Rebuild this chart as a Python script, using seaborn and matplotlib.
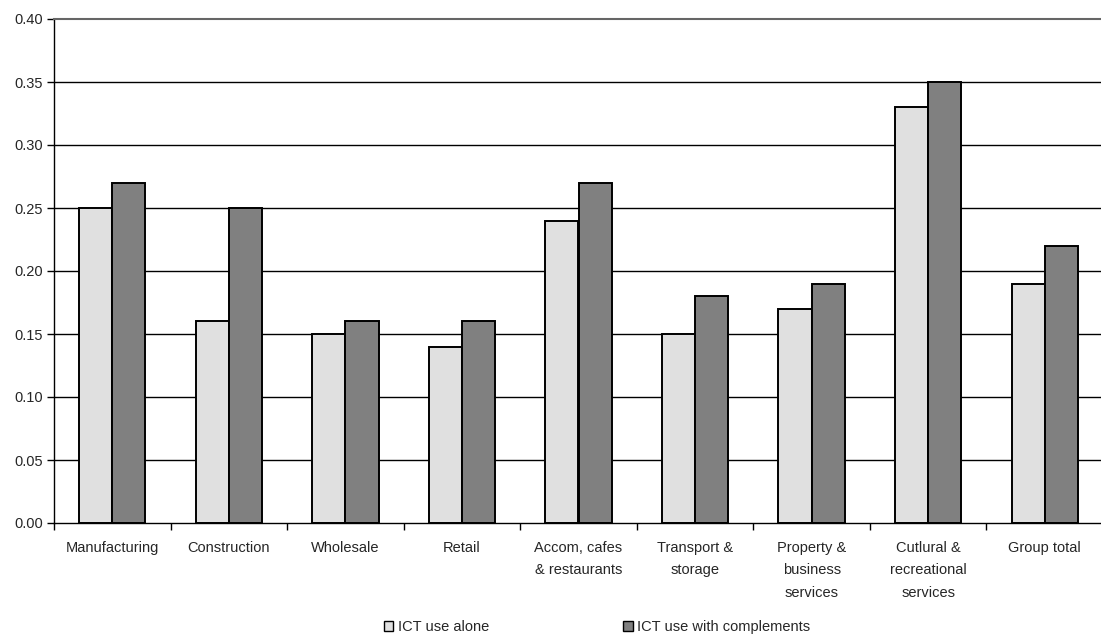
import matplotlib
matplotlib.use("Agg")
import matplotlib.pyplot as plt
import seaborn as sns
import pandas as pd
import numpy as np
from matplotlib.patches import Patch
from matplotlib.ticker import FixedLocator, FixedFormatter, NullFormatter

categories = [
    "Manufacturing", "Construction", "Wholesale", "Retail",
    "Accom, cafes\n& restaurants", "Transport &\nstorage",
    "Property &\nbusiness\nservices", "Cutlural &\nrecreational\nservices",
    "Group total",
]
ict_alone = [0.25, 0.16, 0.15, 0.14, 0.24, 0.15, 0.17, 0.33, 0.19]
ict_complements = [0.27, 0.25, 0.16, 0.16, 0.27, 0.18, 0.19, 0.35, 0.22]
series_names = ["ICT use alone", "ICT use with complements"]
y_ticks = [0.00, 0.05, 0.10, 0.15, 0.20, 0.25, 0.30, 0.35, 0.40]

colors = ["#e0e0e0", "#808080"]

df = pd.DataFrame({
    "category": categories * 2,
    "value": ict_alone + ict_complements,
    "series": [series_names[0]] * len(categories) + [series_names[1]] * len(categories),
})

sns.set_style("white")
plt.rcParams["font.family"] = ["Liberation Sans", "DejaVu Sans"]

W, H = 1101, 638
fig = plt.figure(figsize=(W / 100, H / 100), dpi=100)
ax = fig.add_axes([54 / W, (H - 523) / H, 1049 / W, 504 / H])

sns.barplot(
    data=df, x="category", y="value", hue="series", order=categories,
    hue_order=series_names, palette=colors, width=0.57, gap=0,
    edgecolor="black", linewidth=1.4, legend=False, ax=ax, errorbar=None,
)

ax.set_xlim(-0.5, len(categories) - 0.5)
ax.set_ylim(0, 0.40)
ax.set_xlabel("")
ax.set_ylabel("")

# horizontal gridlines behind bars
ax.set_axisbelow(True)
for v in y_ticks[1:-1]:
    ax.axhline(v, color="black", linewidth=1.0, zorder=0)

ax.set_yticks(y_ticks)
ax.set_yticklabels([f"{v:.2f}" for v in y_ticks])

# ticks at group boundaries, labels at group centres
n = len(categories)
ax.xaxis.set_major_locator(FixedLocator(np.arange(n + 1) - 0.5))
ax.xaxis.set_major_formatter(NullFormatter())
ax.xaxis.set_minor_locator(FixedLocator(np.arange(n)))
ax.xaxis.set_minor_formatter(FixedFormatter(categories))
ax.tick_params(axis="x", which="major", direction="out", length=5, width=1, color="black", bottom=True)
ax.tick_params(axis="x", which="minor", length=0, labelsize=10.5, pad=13, bottom=True)
ax.tick_params(axis="y", direction="out", length=5, width=1, color="black", labelsize=10.5, pad=3, left=True)
for lab in ax.xaxis.get_minorticklabels():
    lab.set_linespacing(1.75)
    lab.set_verticalalignment("top")

for side in ["left", "bottom"]:
    ax.spines[side].set_color("black")
    ax.spines[side].set_linewidth(1.0)
ax.spines["top"].set_color("#666666")
ax.spines["top"].set_linewidth(1.5)
ax.spines["right"].set_visible(False)

handles = [Patch(facecolor=c, edgecolor="black", linewidth=1.0) for c in colors]
fig.legend(
    handles, series_names, loc="center", bbox_to_anchor=(597 / W, 1 - 627 / H),
    ncol=2, frameon=False, fontsize=10.5, handlelength=0.65, handleheight=0.65,
    handletextpad=0.3, columnspacing=9.2,
)

fig.savefig("out.png", dpi=100)
